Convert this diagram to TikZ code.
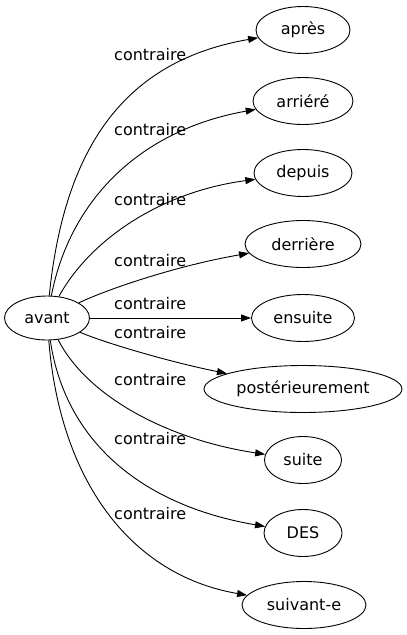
\documentclass[tikz,border=0pt]{standalone}
\usepackage{fontspec}
\setmainfont{DejaVu Sans}
\usetikzlibrary{arrows.meta,shapes.geometric}
\begin{document}
\begin{tikzpicture}[x=1pt,y=-1pt,
  every node/.style={font=\fontsize{16}{19}\selectfont},
  term/.style={ellipse,draw,line width=0.9pt,inner sep=0pt,minimum height=47pt},
  rel/.style={draw,line width=0.9pt,-{Triangle[length=10pt,width=7pt]}},
  lab/.style={anchor=base west,inner sep=0pt}]
\useasboundingbox (0,0) rectangle (407,635);
\node[term,minimum width=85pt,minimum height=44pt] (avant) at (47,318) {avant};
\node[term,minimum width=94pt] (apres) at (303,30) {après};
\node[term,minimum width=100pt] (arriere) at (303,101) {arriéré};
\node[term,minimum width=98pt] (depuis) at (303,173) {depuis};
\node[term,minimum width=116pt] (derriere) at (303,244) {derrière};
\node[term,minimum width=103pt] (ensuite) at (303,318) {ensuite};
\node[term,minimum width=198pt] (poster) at (303,389) {postérieurement};
\node[term,minimum width=77pt] (suite) at (303,460) {suite};
\node[term,minimum width=78pt] (des) at (303,533) {DES};
\node[term,minimum width=124pt] (suivant) at (304,605) {suivant-e};

\draw[rel] (avant) .. controls (65,140) and (130,60) .. (apres);
\draw[rel] (avant) .. controls (70,200) and (140,130) .. (arriere);
\draw[rel] (avant) .. controls (90,240) and (160,192) .. (depuis);
\draw[rel] (avant) .. controls (110,288) and (180,265) .. (derriere);
\draw[rel] (avant) -- (ensuite);
\draw[rel] (avant) .. controls (105,343) and (170,362) .. (poster);
\draw[rel] (avant) .. controls (88,398) and (170,440) .. (suite);
\draw[rel] (avant) .. controls (65,440) and (140,505) .. (des);
\draw[rel] (avant) .. controls (60,480) and (130,575) .. (suivant);

\node[lab] (l1) at (114,60) {contraire};
\node[lab] (l2) at (114,135) {contraire};
\node[lab] (l3) at (114,205) {contraire};
\node[lab] (l4) at (114,266) {contraire};
\node[lab] (l5) at (114,309) {contraire};
\node[lab] (l6) at (114,338) {contraire};
\node[lab] (l7) at (114,385) {contraire};
\node[lab] (l8) at (114,444) {contraire};
\node[lab] (l9) at (114,519) {contraire};
\end{tikzpicture}
\end{document}
